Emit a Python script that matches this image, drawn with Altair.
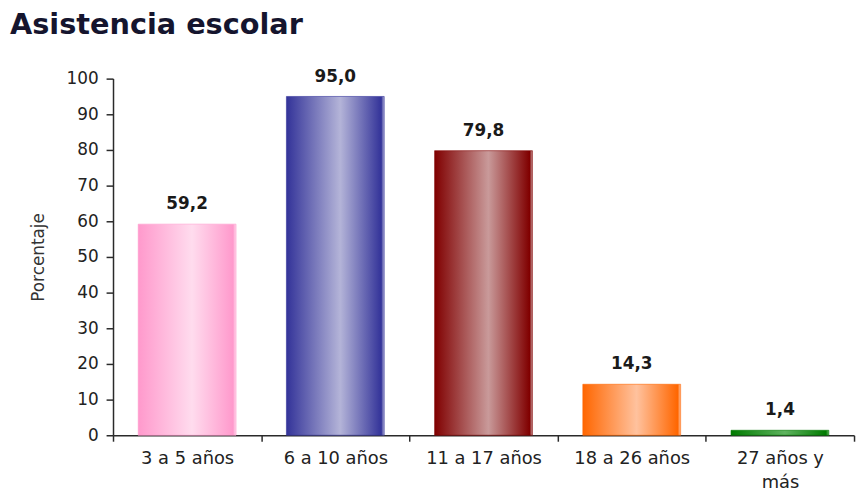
import altair as alt
import pandas as pd

categories = ["3 a 5 años", "6 a 10 años", "11 a 17 años", "18 a 26 años", "27 años y más"]
values = [59.2, 95.0, 79.8, 14.3, 1.4]
dark_colors = ["#ff99cc", "#333399", "#800000", "#ff6600", "#007a00"]
light_colors = ["#ffdcee", "#b4b4d8", "#c99a9a", "#ffc29e", "#5fb35f"]
y_ticks = [0, 10, 20, 30, 40, 50, 60, 70, 80, 90, 100]

df = pd.DataFrame({"cat": categories, "v": values})

FONT = "DejaVu Sans"
AX = "#2a2a2a"

x_enc = alt.X(
    "cat:N",
    sort=categories,
    scale=alt.Scale(domain=categories, paddingInner=0, paddingOuter=0),
    axis=alt.Axis(
        title=None,
        labelAngle=0,
        tickBand="extent",
        tickSize=6,
        tickWidth=1.5,
        tickColor=AX,
        domainColor=AX,
        domainWidth=1.5,
        labelFont=FONT,
        labelFontSize=18,
        labelColor="#222222",
        labelPadding=8,
        labelLineHeight=25,
        labelExpr="datum.label == '27 años y más' ? ['27 años y', 'más'] : datum.label",
    ),
)
y_enc = alt.Y(
    "v:Q",
    scale=alt.Scale(domain=[0, 100], nice=False),
    axis=alt.Axis(
        values=y_ticks,
        title="Porcentaje",
        grid=False,
        tickSize=7,
        tickWidth=1.5,
        tickColor=AX,
        domainColor=AX,
        domainWidth=1.5,
        labelFont=FONT,
        labelFontSize=17,
        labelColor="#222222",
        labelPadding=8,
        titleFont=FONT,
        titleFontSize=17,
        titleFontWeight="normal",
        titleColor="#333333",
        titlePadding=19,
    ),
)

base = alt.Chart(df).encode(x=x_enc, y=y_enc)

layers = []
for cat, dk, lt in zip(categories, dark_colors, light_colors):
    grad = alt.Gradient(
        gradient="linear",
        stops=[
            alt.GradientStop(color=dk, offset=0),
            alt.GradientStop(color=lt, offset=0.55),
            alt.GradientStop(color=dk, offset=0.97),
            alt.GradientStop(color=lt, offset=1),
        ],
        x1=0, x2=1, y1=0, y2=0,
    )
    layers.append(
        base.transform_filter(alt.datum.cat == cat).mark_bar(
            color=grad,
            width=alt.RelativeBandSize(0.66),
            stroke=dk,
            strokeWidth=1,
            strokeOpacity=0.6,
        )
    )

labels = base.transform_calculate(
    lab="replace(format(datum.v, '.1f'), '.', ',')"
).mark_text(
    font=FONT, fontSize=17, fontWeight="bold", color="#1a1a1a",
    baseline="alphabetic", dy=-15,
).encode(text="lab:N")

chart = alt.layer(*layers, labels).properties(
    width=748,
    height=360,
    autosize="none",
    padding={"left": 106, "top": 69, "right": 4, "bottom": 58},
    title=alt.TitleParams(
        "Asistencia escolar",
        anchor="start",
        frame="group",
        font=FONT,
        fontSize=29,
        fontWeight="bold",
        color="#15152e",
        dx=-104,
        offset=5,
        baseline="alphabetic",
    ),
).configure_view(stroke=None)

chart.save("out.html", embed_options={"renderer": "svg", "actions": False})
